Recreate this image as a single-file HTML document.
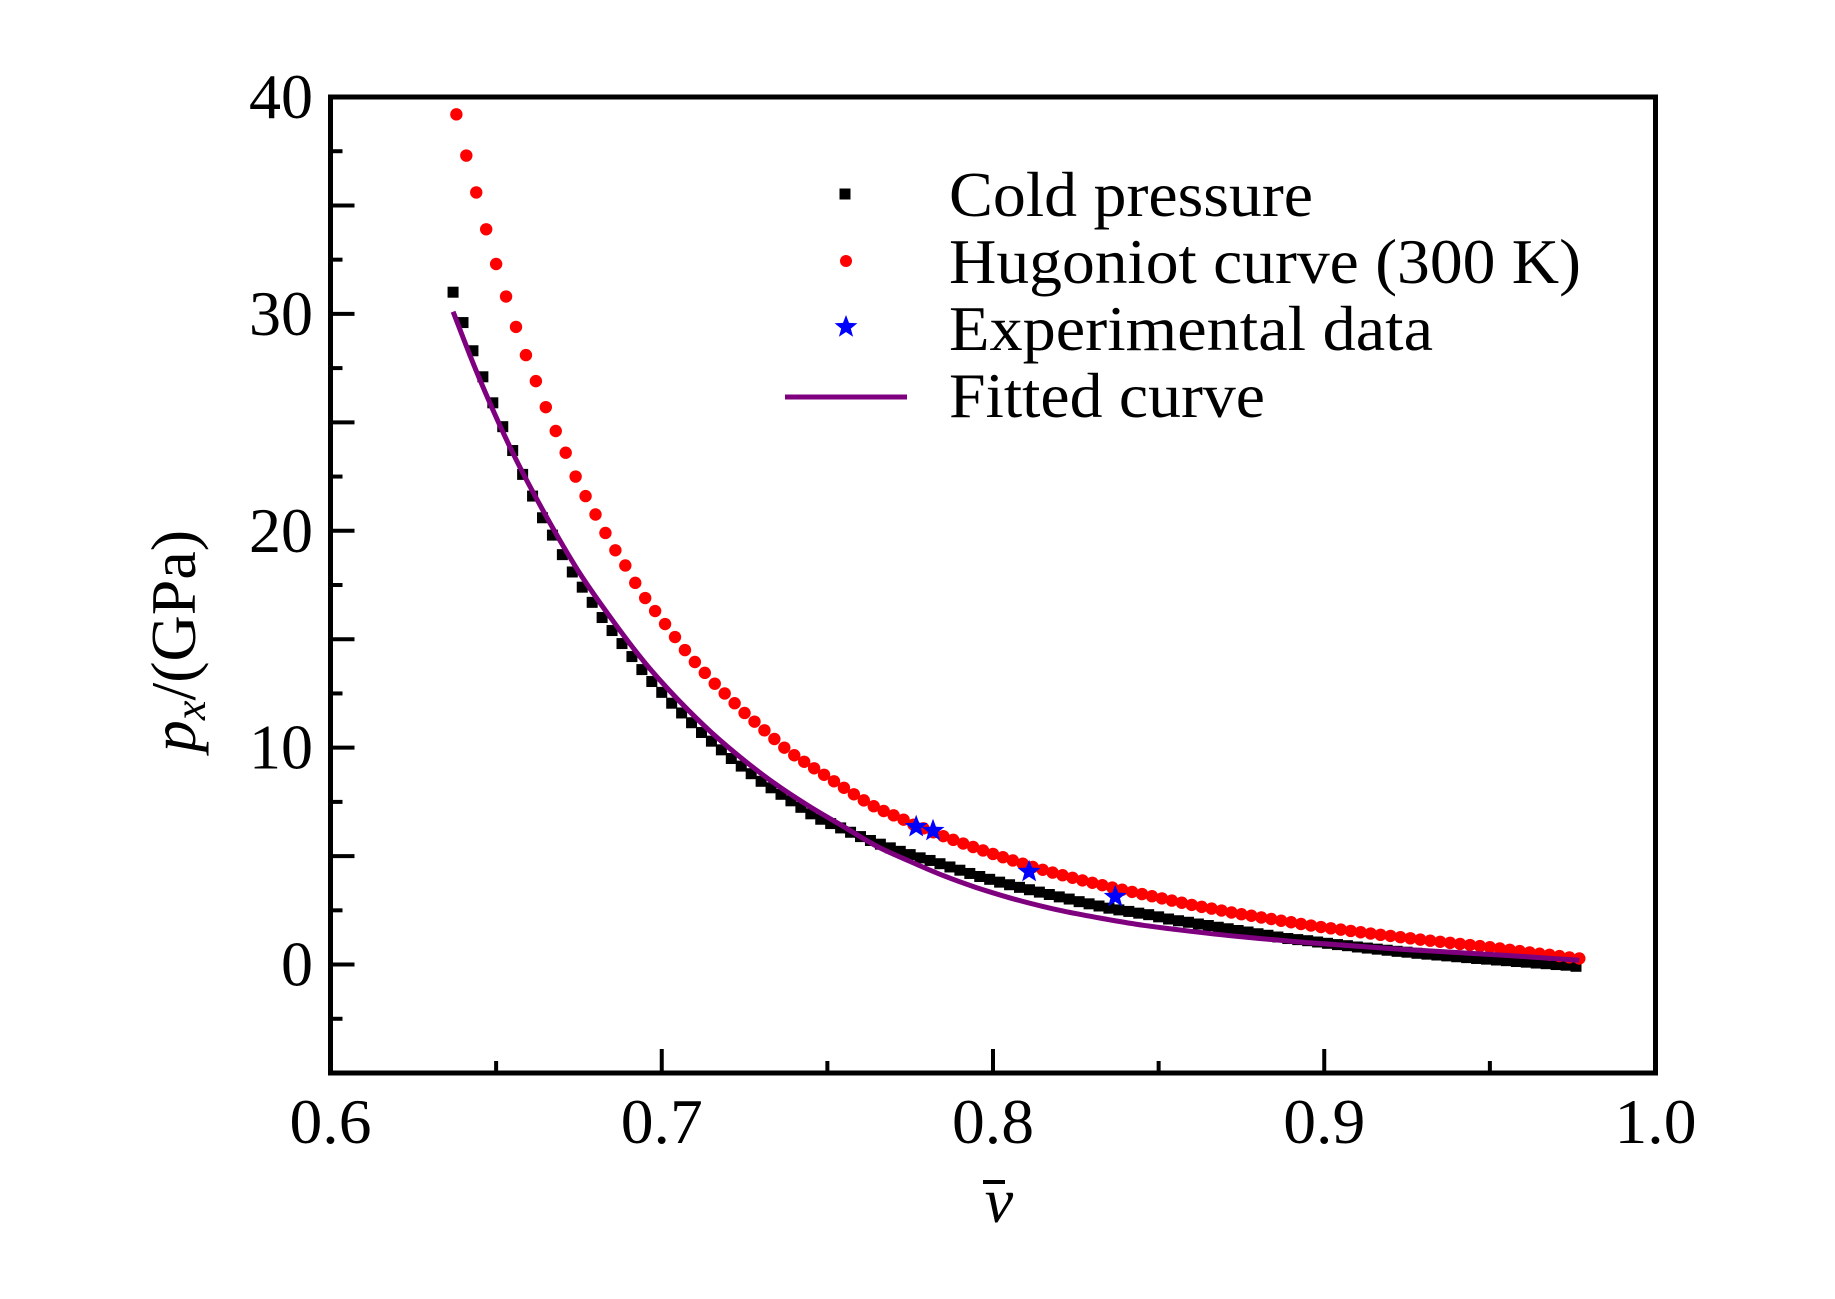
<!DOCTYPE html>
<html><head><meta charset="utf-8"><style>
html,body{margin:0;padding:0;background:#fff;}
svg{display:block;font-family:"Liberation Serif",serif;}
</style></head><body>
<svg id="chart" width="1835" height="1299" viewBox="0 0 1835 1299" xmlns="http://www.w3.org/2000/svg">
<rect x="0" y="0" width="1835" height="1299" fill="#fff"/>
<g id="series"></g>
<g id="axes"></g>
<rect x="330.5" y="97" width="1325" height="976" fill="none" stroke="#000" stroke-width="5"/>
<text x="171" y="641" font-size="64" text-anchor="middle" transform="rotate(-90 195 641)"><tspan x="195" y="641" font-style="italic">p</tspan><tspan font-style="italic" font-size="44" dy="10">x</tspan><tspan dy="-10">/(GPa)</tspan></text>
<text x="999" y="1222" font-size="64" font-style="italic" text-anchor="middle">v</text>
<rect x="983" y="1180" width="22" height="4" fill="#000"/>
<g>
<rect x="839.5" y="188.5" width="11" height="11" fill="#000"/>
<text x="949" y="216" font-size="64" textLength="364" lengthAdjust="spacingAndGlyphs">Cold pressure</text>
<circle cx="846" cy="261" r="6" fill="#ff0000"/>
<text x="949" y="283" font-size="64" textLength="632" lengthAdjust="spacingAndGlyphs">Hugoniot curve (300 K)</text>
<polygon id="legstar" fill="#0000ff"/>
<text x="949" y="350" font-size="64" textLength="484" lengthAdjust="spacingAndGlyphs">Experimental data</text>
<line x1="785" y1="397" x2="907" y2="397" stroke="#7f007f" stroke-width="5"/>
<text x="949" y="417" font-size="64" textLength="316" lengthAdjust="spacingAndGlyphs">Fitted curve</text>
</g>
</svg>
<script>
const xTicks = [0.6, 0.7, 0.8, 0.9, 1.0];
const xTickLabels = ["0.6", "0.7", "0.8", "0.9", "1.0"];
const yTicks = [0, 10, 20, 30, 40];
const yTickLabels = ["0", "10", "20", "30", "40"];
const coldV = [0.637,0.640,0.643,0.646,0.649,0.652,0.655,0.658,0.661,0.664,0.667,0.670,0.673,0.676,0.679,0.682,0.685,0.688,0.691,0.694,0.697,0.700,0.703,0.706,0.709,0.712,0.715,0.718,0.721,0.724,0.727,0.730,0.733,0.736,0.739,0.742,0.745,0.748,0.751,0.754,0.757,0.760,0.763,0.766,0.769,0.772,0.775,0.778,0.781,0.784,0.787,0.790,0.793,0.796,0.799,0.802,0.805,0.808,0.811,0.814,0.817,0.820,0.823,0.826,0.829,0.832,0.835,0.838,0.841,0.844,0.847,0.850,0.853,0.856,0.859,0.862,0.865,0.868,0.871,0.874,0.877,0.880,0.883,0.886,0.889,0.892,0.895,0.898,0.901,0.904,0.907,0.910,0.913,0.916,0.919,0.922,0.925,0.928,0.931,0.934,0.937,0.940,0.943,0.946,0.949,0.952,0.955,0.958,0.961,0.964,0.967,0.970,0.973,0.976];
const coldP = [31.0,29.6,28.3,27.1,25.9,24.8,23.7,22.6,21.6,20.6,19.8,18.9,18.1,17.4,16.7,16.0,15.4,14.8,14.2,13.6,13.05,12.55,12.05,11.6,11.15,10.7,10.3,9.9,9.5,9.15,8.8,8.45,8.15,7.85,7.55,7.25,6.95,6.7,6.5,6.3,6.1,5.9,5.72,5.55,5.38,5.22,5.07,4.92,4.8,4.65,4.5,4.35,4.2,4.06,3.93,3.8,3.68,3.56,3.45,3.34,3.23,3.12,3.02,2.9,2.8,2.7,2.6,2.52,2.45,2.37,2.3,2.2,2.1,2.02,1.95,1.87,1.8,1.72,1.65,1.57,1.5,1.42,1.35,1.27,1.2,1.15,1.1,1.04,0.98,0.92,0.87,0.81,0.76,0.71,0.66,0.61,0.57,0.52,0.48,0.44,0.4,0.36,0.32,0.28,0.25,0.21,0.18,0.14,0.11,0.07,0.04,0.0,-0.03,-0.08];
const hugV = [0.638,0.641,0.644,0.647,0.650,0.653,0.656,0.659,0.662,0.665,0.668,0.671,0.674,0.677,0.680,0.683,0.686,0.689,0.692,0.695,0.698,0.701,0.704,0.707,0.710,0.713,0.716,0.719,0.722,0.725,0.728,0.731,0.734,0.737,0.740,0.743,0.746,0.749,0.752,0.755,0.758,0.761,0.764,0.767,0.770,0.773,0.776,0.779,0.782,0.785,0.788,0.791,0.794,0.797,0.800,0.803,0.806,0.809,0.812,0.815,0.818,0.821,0.824,0.827,0.830,0.833,0.836,0.839,0.842,0.845,0.848,0.851,0.854,0.857,0.860,0.863,0.866,0.869,0.872,0.875,0.878,0.881,0.884,0.887,0.890,0.893,0.896,0.899,0.902,0.905,0.908,0.911,0.914,0.917,0.920,0.923,0.926,0.929,0.932,0.935,0.938,0.941,0.944,0.947,0.950,0.953,0.956,0.959,0.962,0.965,0.968,0.971,0.974,0.977];
const hugP = [39.2,37.3,35.6,33.9,32.3,30.8,29.4,28.1,26.9,25.7,24.6,23.6,22.5,21.6,20.75,19.9,19.1,18.4,17.6,16.9,16.3,15.7,15.1,14.5,13.95,13.45,12.95,12.5,12.05,11.6,11.2,10.8,10.4,10.0,9.65,9.35,9.05,8.75,8.45,8.15,7.85,7.57,7.3,7.08,6.88,6.68,6.45,6.28,6.1,5.92,5.75,5.58,5.42,5.26,5.1,4.95,4.8,4.65,4.5,4.37,4.24,4.12,4.0,3.88,3.77,3.66,3.55,3.45,3.35,3.25,3.15,3.05,2.95,2.85,2.75,2.66,2.58,2.49,2.4,2.32,2.25,2.17,2.1,2.02,1.95,1.87,1.8,1.73,1.67,1.61,1.55,1.49,1.43,1.37,1.32,1.26,1.21,1.15,1.1,1.05,1.0,0.95,0.9,0.85,0.8,0.74,0.68,0.62,0.56,0.5,0.45,0.39,0.33,0.28];
const expV = [0.7768, 0.7819, 0.8109, 0.8369];
const expP = [6.35, 6.17, 4.28, 3.13];
const fitV = [0.637,0.645,0.655,0.665,0.675,0.685,0.695,0.705,0.715,0.725,0.735,0.745,0.755,0.765,0.775,0.785,0.795,0.805,0.815,0.825,0.835,0.845,0.855,0.865,0.875,0.885,0.895,0.905,0.915,0.925,0.935,0.945,0.955,0.965,0.977];
const fitP = [30.1,27.0,23.6,20.7,18.1,15.9,13.9,12.2,10.7,9.4,8.25,7.25,6.35,5.45,4.75,4.1,3.55,3.08,2.68,2.35,2.07,1.82,1.62,1.44,1.28,1.14,1.01,0.9,0.79,0.69,0.6,0.51,0.42,0.32,0.2];

const X0 = 330.5, X1 = 1655.5, Y0 = 1073, Y1 = 97;
function sx(v){ return X0 + (v - 0.6) / 0.4 * (X1 - X0); }
function sy(p){ return Y0 - (p + 5) / 45 * (Y0 - Y1); }
const NS = "http://www.w3.org/2000/svg";
const series = document.getElementById('series');
const axes = document.getElementById('axes');
function mk(tag, attrs, parent){ const e = document.createElementNS(NS, tag); for (const k in attrs) e.setAttribute(k, attrs[k]); parent.appendChild(e); return e; }
function starPts(cx, cy, R){ const r = R*0.42; let s=[]; for(let i=0;i<10;i++){ const a=-Math.PI/2+i*Math.PI/5; const rr=i%2?r:R; s.push((cx+rr*Math.cos(a)).toFixed(1)+","+(cy+rr*Math.sin(a)).toFixed(1)); } return s.join(" "); }
document.getElementById('legstar').setAttribute('points', starPts(846, 327, 12));

for (let v = 0.6; v <= 1.0001; v += 0.05) {
  const major = Math.abs(v*10 - Math.round(v*10)) < 1e-6;
  const t = mk('line', {x1: sx(v), x2: sx(v), y1: Y0, y2: Y0 - (major ? 24 : 12), stroke: '#000', 'stroke-width': 4}, axes);
  
  
}
for (let p = -5; p <= 40.001; p += 2.5) {
  const major = Math.abs(p/5 - Math.round(p/5)) < 1e-6;
  const t = mk('line', {x1: X0, x2: X0 + (major ? 24 : 12), y1: sy(p), y2: sy(p), stroke: '#000', 'stroke-width': 4}, axes);
  
  
}
xTicks.forEach((v, i) => {
  const t = mk('text', {x: sx(v), y: 1143, 'font-size': 64, 'text-anchor': 'middle', textLength: 82, lengthAdjust: 'spacingAndGlyphs'}, axes);
  t.textContent = xTickLabels[i];
  
  
});
yTicks.forEach((p, i) => {
  const w = yTickLabels[i].length * 32;
  const t = mk('text', {x: 313, y: sy(p) + 21, 'font-size': 64, 'text-anchor': 'end', textLength: w, lengthAdjust: 'spacingAndGlyphs'}, axes);
  t.textContent = yTickLabels[i];
  
  
});

coldV.forEach((v, i) => {
  const r = mk('rect', {x: sx(v) - 5.5, y: sy(coldP[i]) - 5.5, width: 11, height: 11, fill: '#000'}, series);
  
  
});
hugV.forEach((v, i) => {
  const c = mk('circle', {cx: sx(v), cy: sy(hugP[i]), r: 6.2, fill: '#ff0000'}, series);
  
  
});
// smooth path through fitted points (Catmull-Rom)
const pts = fitV.map((v, i) => [sx(v), sy(fitP[i])]);
let d = 'M' + pts[0][0].toFixed(1) + ',' + pts[0][1].toFixed(1);
for (let i = 0; i < pts.length - 1; i++) {
  const p0 = pts[Math.max(0, i - 1)], p1 = pts[i], p2 = pts[i + 1], p3 = pts[Math.min(pts.length - 1, i + 2)];
  const c1x = p1[0] + (p2[0] - p0[0]) / 6, c1y = p1[1] + (p2[1] - p0[1]) / 6;
  const c2x = p2[0] - (p3[0] - p1[0]) / 6, c2y = p2[1] - (p3[1] - p1[1]) / 6;
  d += ' C' + c1x.toFixed(1) + ',' + c1y.toFixed(1) + ' ' + c2x.toFixed(1) + ',' + c2y.toFixed(1) + ' ' + p2[0].toFixed(1) + ',' + p2[1].toFixed(1);
}
const fp = mk('path', {d: d, fill: 'none', stroke: '#7f007f', 'stroke-width': 5, 'stroke-linejoin': 'round'}, series);


expV.forEach((v, i) => {
  const s = mk('polygon', {points: starPts(sx(v), sy(expP[i]), 12), fill: '#0000ff'}, series);
  
  
});
</script>
</body></html>
